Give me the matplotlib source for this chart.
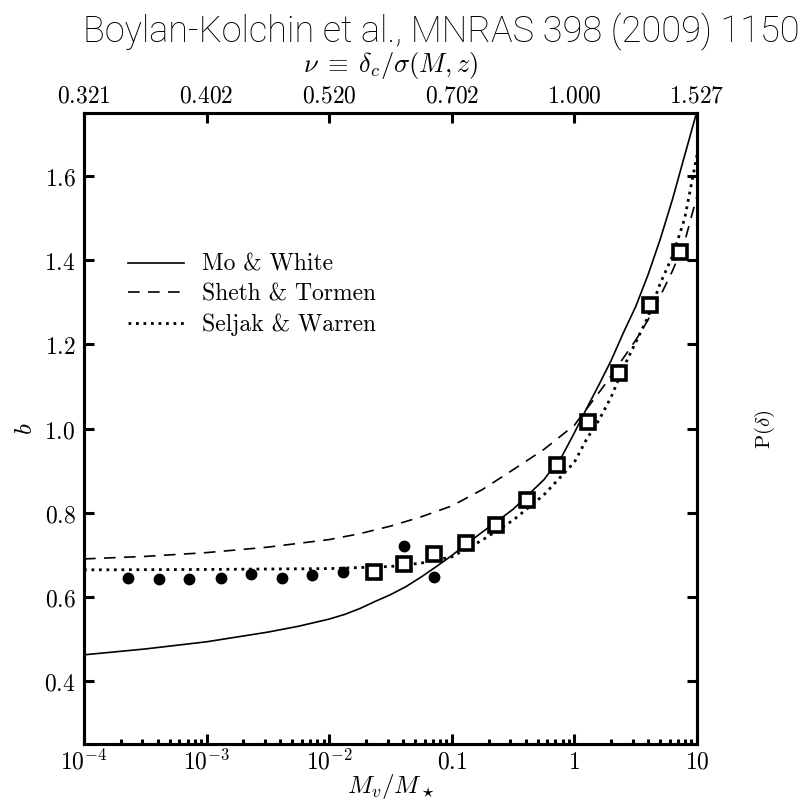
import numpy as np
import matplotlib
matplotlib.use("Agg")
import matplotlib.pyplot as plt
from matplotlib.ticker import FixedLocator, FixedFormatter, NullLocator, LogLocator

plt.rcParams["mathtext.fontset"] = "cm"

# halo bias vs. mass: model curves (log10 M/M*, b)
mw_logm = [-4.0, -3.5, -3.0, -2.5, -2.25, -2.0, -1.875, -1.75, -1.625, -1.5, -1.375, -1.25,
           -1.125, -1.0, -0.875, -0.75, -0.5, -0.25, -0.1, 0.0, 0.1, 0.2, 0.3, 0.4, 0.5,
           0.6, 0.7, 0.8, 0.9, 1.0]
mw_b = [0.462, 0.476, 0.493, 0.516, 0.530, 0.547, 0.558, 0.572, 0.589, 0.605, 0.624, 0.647,
        0.672, 0.698, 0.727, 0.754, 0.808, 0.878, 0.935, 0.990, 1.048, 1.104, 1.162, 1.228,
        1.290, 1.365, 1.450, 1.545, 1.650, 1.755]

st_logm = [-4.0, -3.5, -3.0, -2.5, -2.0, -1.75, -1.5, -1.25, -1.0, -0.75, -0.5, -0.25, 0.0,
           0.25, 0.5, 0.6, 0.7, 0.8, 0.9, 1.0]
st_b = [0.690, 0.696, 0.705, 0.718, 0.736, 0.750, 0.768, 0.790, 0.816, 0.855, 0.902, 0.950,
        1.008, 1.105, 1.210, 1.258, 1.315, 1.375, 1.445, 1.553]

sw_logm = [-4.0, -3.0, -2.0, -1.5, -1.25, -1.0, -0.75, -0.5, -0.25, 0.0, 0.1, 0.2, 0.3,
           0.4, 0.5, 0.6, 0.7, 0.8, 0.9, 1.0]
sw_b = [0.664, 0.665, 0.667, 0.672, 0.680, 0.695, 0.735, 0.782, 0.842, 0.920, 0.975, 1.020,
        1.075, 1.145, 1.205, 1.265, 1.345, 1.410, 1.500, 1.650]

# simulation measurements
circ_m = [2.3e-4, 4.1e-4, 7.2e-4, 1.3e-3, 2.3e-3, 4.1e-3, 7.2e-3, 1.3e-2, 2.3e-2, 4.1e-2, 7.2e-2]
circ_b = [0.645, 0.643, 0.643, 0.645, 0.654, 0.645, 0.652, 0.660, 0.657, 0.720, 0.646]

sq_m = [2.3e-2, 4.1e-2, 7.2e-2, 0.13, 0.23, 0.41, 0.72, 1.3, 2.3, 4.1, 7.2]
sq_b = [0.660, 0.678, 0.702, 0.728, 0.771, 0.831, 0.914, 1.015, 1.133, 1.293, 1.420]

# axis ticks
bottom_ticks = [1e-4, 1e-3, 1e-2, 0.1, 1, 10]
bottom_labels = [r"$10^{-4}$", r"$10^{-3}$", r"$10^{-2}$", r"$0.1$", r"$1$", r"$10$"]
top_labels = ["0.321", "0.402", "0.520", "0.702", "1.000", "1.527"]
y_ticks = [0.4, 0.6, 0.8, 1.0, 1.2, 1.4, 1.6]

fig = plt.figure(figsize=(8.09, 8.06), dpi=100)
ax = fig.add_axes([0.1038, 0.0769, 0.7578, 0.7829])

ax.plot(10 ** np.array(mw_logm), mw_b, "-", color="k", lw=1.2, label="Mo & White")
ax.plot(10 ** np.array(st_logm), st_b, color="k", lw=1.2, linestyle=(0, (7, 5)),
        label="Sheth & Tormen")
ax.plot(10 ** np.array(sw_logm), sw_b, color="k", lw=2.0, linestyle=(0, (1, 1.7)),
        label="Seljak & Warren")

ax.plot(circ_m, circ_b, "o", color="k", ms=7.5, zorder=4)
ax.plot(sq_m, sq_b, "s", mfc="white", mec="k", ms=10.5, mew=2.6, zorder=5)

ax.set_xscale("log")
ax.set_xlim(1e-4, 10)
ax.set_ylim(0.25, 1.75)

ax.xaxis.set_major_locator(FixedLocator(bottom_ticks))
ax.xaxis.set_major_formatter(FixedFormatter(bottom_labels))
ax.xaxis.set_minor_locator(LogLocator(base=10, subs=np.arange(2, 10), numticks=20))
ax.yaxis.set_major_locator(FixedLocator(y_ticks))
ax.yaxis.set_major_formatter(FixedFormatter([f"${v:.1f}$" for v in y_ticks]))
ax.yaxis.set_minor_locator(NullLocator())

ax.tick_params(which="both", direction="in", top=False, right=True, width=2.2)
ax.tick_params(which="major", length=7, labelsize=17, pad=6)
ax.tick_params(axis="x", which="major", pad=4)
ax.tick_params(which="minor", length=3.5)
for s in ax.spines.values():
    s.set_linewidth(2.2)

ax.set_xlabel(r"$M_v/M_\star$", fontsize=18, labelpad=-2)
ax.set_ylabel(r"$b$", fontsize=18, labelpad=5)

top = ax.twiny()
top.set_xscale("log")
top.set_xlim(ax.get_xlim())
top.xaxis.set_major_locator(FixedLocator(bottom_ticks))
top.xaxis.set_major_formatter(FixedFormatter([f"${t}$" for t in top_labels]))
top.xaxis.set_minor_locator(NullLocator())
top.tick_params(which="major", direction="in", length=7, width=2.2, labelsize=17, pad=4)
top.set_xlabel(r"$\nu\;\equiv\;\delta_c/\sigma(M,z)$", fontsize=19, labelpad=8)
for s in top.spines.values():
    s.set_linewidth(2.2)

leg = ax.legend(loc="upper left", bbox_to_anchor=(0.072, 0.777), frameon=False,
                prop={"family": "cmr10", "size": 17},
                handlelength=2.35, handletextpad=0.8, labelspacing=0.33,
                borderpad=0, borderaxespad=0)

fig.text(0.946, 0.467, r"$\mathrm{P}(\delta)$", rotation=90, fontsize=15, ha="center", va="center")

fig.text(0.546, 0.961, "Boylan-Kolchin et al., MNRAS 398 (2009) 1150",
         family=["Roboto", "Liberation Sans"], fontweight="light", fontsize=26,
         ha="center", va="center")

fig.savefig("out.png", dpi=100)
